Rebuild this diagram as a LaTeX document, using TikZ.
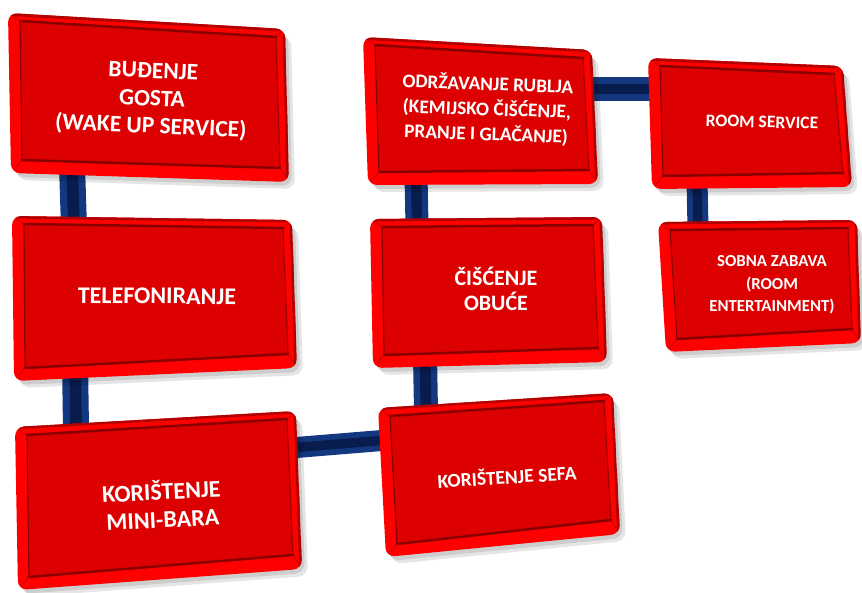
\documentclass[tikz,border=0pt]{standalone}
\usepackage{fontspec}
\setmainfont{Carlito}
\usetikzlibrary{calc}
\definecolor{rimred}{HTML}{FF0000}
\definecolor{facered}{HTML}{DC0000}
\definecolor{edgedark}{HTML}{8A0000}
\definecolor{rimdark}{HTML}{B00000}
\definecolor{navy}{HTML}{14387F}
\definecolor{navydark}{HTML}{081C4E}
\tikzset{
  boxtext/.style={text=white, font=\bfseries\fontsize{23.5}{27.5}\selectfont, align=center, inner sep=0pt},
  smalltext/.style={text=white, font=\bfseries\fontsize{17.6}{22.5}\selectfont, align=center, inner sep=0pt},
}
\newcommand\redbox[5]{%
  \coordinate (#1-A) at (#2);
  \coordinate (#1-B) at (#3);
  \coordinate (#1-C) at (#4);
  \coordinate (#1-D) at (#5);
  \coordinate (#1-a) at ($(#1-A)+(12,8)$);
  \coordinate (#1-b) at ($(#1-B)+(-9,8)$);
  \coordinate (#1-c) at ($(#1-C)+(-9,-14)$);
  \coordinate (#1-d) at ($(#1-D)+(11,-13)$);
  \fill[black, opacity=0.10, rounded corners=10pt] ($(#1-A)+(6,7)$) -- ($(#1-B)+(6,7)$) -- ($(#1-C)+(6,7)$) -- ($(#1-D)+(6,7)$) -- cycle;
  \fill[black, opacity=0.10, rounded corners=10pt] ($(#1-A)+(3,4)$) -- ($(#1-B)+(3,4)$) -- ($(#1-C)+(3,4)$) -- ($(#1-D)+(3,4)$) -- cycle;
  \begin{scope}
    \clip[rounded corners=9pt] (#1-A) -- (#1-B) -- (#1-C) -- (#1-D) -- cycle;
    \fill[rimred] (#1-A) -- (#1-B) -- (#1-C) -- (#1-D) -- cycle;
    \draw[rimdark, line width=5pt] ($(#1-A)+(-5,0)$) -- (#1-B) -- ($(#1-C)+(0,5)$);
    \draw[rimdark!60!rimred, line width=1pt] ($(#1-A)!0.35!(#1-a)$) -- (#1-a);
    \draw[rimdark!60!rimred, line width=1pt] ($(#1-B)!0.35!(#1-b)$) -- (#1-b);
    \draw[rimdark!60!rimred, line width=1pt] ($(#1-C)!0.35!(#1-c)$) -- (#1-c);
    \draw[rimdark!60!rimred, line width=1pt] ($(#1-D)!0.35!(#1-d)$) -- (#1-d);
  \end{scope}
  \fill[facered] (#1-a) -- (#1-b) -- (#1-c) -- (#1-d) -- cycle;
  \draw[edgedark, line width=1.2pt] (#1-a) -- (#1-d);
  \draw[edgedark!70!facered, line width=1.2pt] (#1-b) -- (#1-c);
  \draw[edgedark, line width=2.5pt, line cap=round] (#1-a) -- (#1-b);
  \draw[edgedark, line width=2.5pt, line cap=round] (#1-d) -- (#1-c);
}
\begin{document}
\begin{tikzpicture}[x=1pt, y=-1pt]
\useasboundingbox (0,0) rectangle (862,592);
\fill[white] (0,0) rectangle (862,592);
% connector end points
\coordinate (k1s) at (72,165);
\coordinate (k1e) at (74,228);
\coordinate (k2s) at (75,362);
\coordinate (k2e) at (76,428);
\coordinate (k3s) at (290,448);
\coordinate (k3e) at (388,440);
\coordinate (k4s) at (425,355);
\coordinate (k4e) at (426,412);
\coordinate (k5s) at (416,175);
\coordinate (k5e) at (417,226);
\coordinate (k6s) at (585,89);
\coordinate (k6e) at (656,89);
\coordinate (k7s) at (697,180);
\coordinate (k7e) at (698,228);
\foreach \s/\e/\w in {k1s/k1e/26, k2s/k2e/26, k3s/k3e/21, k4s/k4e/24, k5s/k5e/23, k6s/k6e/24, k7s/k7e/21}{
  \draw[draw=navy, line width=\w pt] (\s) -- (\e);
  \draw[draw=navydark, line width=0.45*\w pt] (\s) -- (\e);
}
% boxes
\redbox{b1}{8,13}{285,29}{289,182}{11,173}
\redbox{b2}{12,216}{292,220}{297,368}{14,381}
\redbox{b3}{15,427}{296,411}{302,569}{18,590}
\redbox{b4}{363,37}{592,50}{598,184}{368,185}
\redbox{b5}{370,219}{602,217}{607,362}{373,368}
\redbox{b6}{378,408}{613,393}{620,534}{386,557}
\redbox{b7}{648,58}{843,66}{852,187}{652,189}
\redbox{b8}{658,222}{857,220}{861,343}{666,352}
% texts
\node[boxtext, rotate=-2.5] (t1) at (152,100) {BUĐENJE\\GOSTA\\(WAKE UP SERVICE)};
\node[boxtext, font=\bfseries\fontsize{24}{28}\selectfont, rotate=-0.5] (t2) at (157,296) {TELEFONIRANJE};
\node[boxtext, font=\bfseries\fontsize{24}{28}\selectfont, rotate=3] (t3) at (162,504) {KORIŠTENJE\\MINI-BARA};
\node[smalltext, font=\bfseries\fontsize{19.3}{25}\selectfont, rotate=-2] (t4) at (487,109) {ODRŽAVANJE RUBLJA\\(KEMIJSKO ČIŠĆENJE,\\PRANJE I GLAČANJE)};
\node[smalltext, font=\bfseries\fontsize{22}{25}\selectfont] (t5) at (496,289) {ČIŠĆENJE\\OBUĆE};
\node[smalltext, font=\bfseries\fontsize{19.5}{24}\selectfont, rotate=3.5] (t6) at (507,476) {KORIŠTENJE SEFA};
\node[smalltext, rotate=-1.5] (t7) at (762,122) {ROOM SERVICE};
\node[smalltext, font=\bfseries\fontsize{16.8}{22.5}\selectfont] (t8) at (772,285) {SOBNA ZABAVA\\(ROOM\\ENTERTAINMENT)};
\end{tikzpicture}
\end{document}
